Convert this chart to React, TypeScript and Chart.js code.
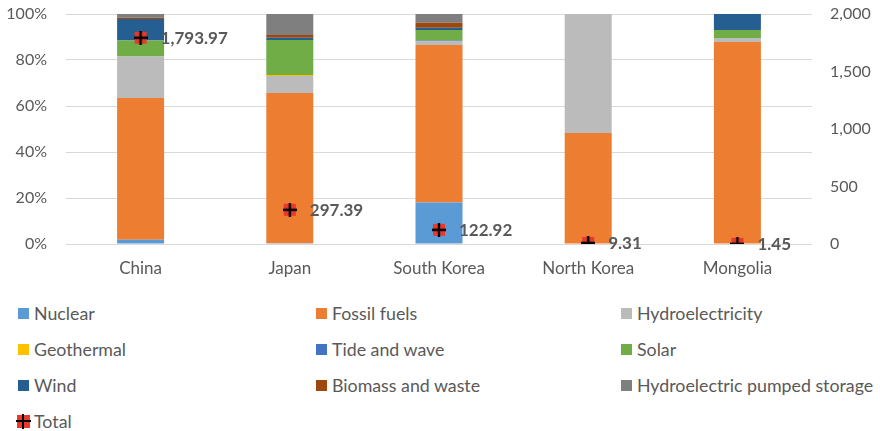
import React, { useEffect, useRef } from "react";
import { Chart, registerables } from "chart.js";

Chart.register(...registerables);

const categories = ["China", "Japan", "South Korea", "North Korea", "Mongolia"];

const nuclear = [1.8, 0.3, 18.0, 0, 0];
const fossil = [61.7, 65.4, 68.5, 48.3, 87.8];
const hydro = [18.0, 7.3, 1.8, 51.7, 1.8];
const geothermal = [0, 0.5, 0, 0, 0];
const tideWave = [0, 0, 0.2, 0, 0];
const solar = [7.0, 15.2, 4.5, 0, 3.4];
const wind = [9.3, 1.0, 1.0, 0, 7.0];
const biomass = [0.6, 1.2, 2.2, 0, 0];
const pumped = [1.6, 9.1, 3.8, 0, 0];

const totals = [1793.97, 297.39, 122.92, 9.31, 1.45];

const percentTicks = [0, 20, 40, 60, 80, 100];

const seriesDefs = [
  { label: "Nuclear", data: nuclear, color: "#5B9BD5" },
  { label: "Fossil fuels", data: fossil, color: "#ED7D31" },
  { label: "Hydroelectricity", data: hydro, color: "#BBBBBB" },
  { label: "Geothermal", data: geothermal, color: "#FFC000" },
  { label: "Tide and wave", data: tideWave, color: "#4472C4" },
  { label: "Solar", data: solar, color: "#70AD47" },
  { label: "Wind", data: wind, color: "#255E91" },
  { label: "Biomass and waste", data: biomass, color: "#9E480E" },
  { label: "Hydroelectric pumped storage", data: pumped, color: "#7F7F7F" },
];

const FONT = "Lato, 'Open Sans', sans-serif";
const TEXT = "#595959";

function makeMarker(): HTMLCanvasElement {
  const c = document.createElement("canvas");
  c.width = 14;
  c.height = 14;
  const ctx = c.getContext("2d")!;
  ctx.fillStyle = "#E83A2C";
  ctx.fillRect(1, 1, 12, 12);
  ctx.strokeStyle = "#000";
  ctx.lineWidth = 2.4;
  ctx.beginPath();
  ctx.moveTo(7, 0);
  ctx.lineTo(7, 14);
  ctx.moveTo(0, 7);
  ctx.lineTo(14, 7);
  ctx.stroke();
  return c;
}

const labelPlugin = {
  id: "totalLabels",
  afterDatasetsDraw(chart: any) {
    const idx = chart.data.datasets.findIndex((d: any) => d.type === "line");
    if (idx < 0) return;
    const meta = chart.getDatasetMeta(idx);
    const ctx = chart.ctx;
    ctx.save();
    ctx.font = `bold 17px ${FONT}`;
    ctx.fillStyle = TEXT;
    ctx.textAlign = "left";
    ctx.textBaseline = "middle";
    meta.data.forEach((pt: any, i: number) => {
      const v = chart.data.datasets[idx].data[i];
      const s = v.toLocaleString("en-US", { minimumFractionDigits: 2, maximumFractionDigits: 2 });
      ctx.fillText(s, pt.x + 20, pt.y + 1);
    });
    ctx.restore();
  },
};

function fixVertical(width: number) {
  return (axis: any) => {
    axis.width = width;
    axis.paddingTop = 14;
    axis.paddingBottom = 0;
  };
}

export default function App() {
  const ref = useRef<HTMLCanvasElement | null>(null);

  useEffect(() => {
    document.body.style.margin = "0";
    const marker = makeMarker();
    const datasets: any[] = seriesDefs.map((s) => ({
      type: "bar",
      label: s.label,
      data: s.data,
      backgroundColor: s.color,
      borderWidth: 0,
      yAxisID: "y",
      stack: "s",
      order: 1,
      categoryPercentage: 1,
      barPercentage: 0.315,
    }));
    datasets.push({
      type: "line",
      label: "Total",
      data: totals,
      yAxisID: "y1",
      showLine: false,
      pointStyle: marker,
      pointRadius: 7,
      order: 0,
    });
    const chart = new Chart(ref.current!, {
      type: "bar",
      data: { labels: categories, datasets },
      plugins: [labelPlugin],
      options: {
        animation: false,
        responsive: false,
        layout: { padding: 0 },
        plugins: { legend: { display: false }, tooltip: { enabled: false } },
        scales: {
          x: {
            stacked: true,
            grid: { display: false },
            border: { display: false },
            afterFit: (axis: any) => {
              axis.height = 46;
            },
            ticks: { color: TEXT, font: { family: FONT, size: 17 }, padding: 6 },
          },
          y: {
            stacked: true,
            min: 0,
            max: 100,
            afterBuildTicks: (axis: any) => {
              axis.ticks = percentTicks.map((v) => ({ value: v }));
            },
            afterFit: fixVertical(66),
            ticks: {
              color: TEXT,
              font: { family: FONT, size: 16 },
              padding: 19,
              callback: (v: any) => v + "%",
            },
            grid: { color: "#D9D9D9", drawTicks: false },
            border: { display: false },
          },
          y1: {
            position: "right",
            min: 0,
            max: 2000,
            afterFit: fixVertical(68),
            ticks: {
              stepSize: 500,
              color: TEXT,
              font: { family: FONT, size: 16 },
              padding: 18,
              callback: (v: any) => Number(v).toLocaleString("en-US"),
            },
            grid: { display: false, drawTicks: false },
            border: { display: false },
          },
        },
      },
    } as any);
    return () => chart.destroy();
  }, []);

  const legendItems = [...seriesDefs.map((s) => ({ label: s.label, color: s.color })), { label: "Total", color: "" }];

  return (
    <div style={{ width: 880, fontFamily: FONT }}>
      <canvas ref={ref} width={880} height={290} style={{ display: "block" }} />
      <div
        style={{
          display: "grid",
          gridTemplateColumns: "298px 305px 259px",
          paddingLeft: 18,
          paddingTop: 5,
        }}
      >
        {legendItems.map((it) => (
          <div
            key={it.label}
            style={{ height: 36, display: "flex", alignItems: "center", color: TEXT, fontSize: 17.8, whiteSpace: "nowrap" }}
          >
            {it.color ? (
              <span style={{ width: 11, height: 11, background: it.color, display: "inline-block", marginRight: 5, flex: "none" }} />
            ) : (
              <span
                style={{
                  width: 13,
                  height: 13,
                  position: "relative",
                  display: "inline-block",
                  marginRight: 4,
                  marginLeft: -1,
                  background: "#E83A2C",
                  flex: "none",
                }}
              >
                <span style={{ position: "absolute", left: 5, top: -1, width: 2.4, height: 15, background: "#000" }} />
                <span style={{ position: "absolute", top: 5, left: -1, height: 2.4, width: 15, background: "#000" }} />
              </span>
            )}
            <span>{it.label}</span>
          </div>
        ))}
      </div>
    </div>
  );
}
